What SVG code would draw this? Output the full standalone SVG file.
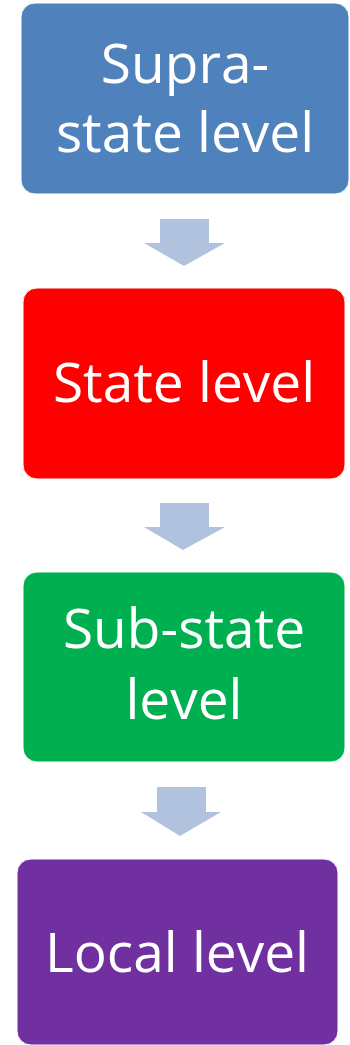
<svg xmlns="http://www.w3.org/2000/svg" width="350" height="1045" viewBox="0 0 350 1045">
<style>
.box{stroke:#ffffff;stroke-width:1}
.lbl{font-family:"Open Sans","Noto Sans",sans-serif;font-size:55px;fill:#ffffff;text-anchor:middle}
.arr{fill:#B1C2DE}
</style>
<rect width="350" height="1045" fill="#ffffff"/>
<g id="connectors">
<polygon class="arr" points="160,219 209,219 209,243 225,243 184,266 144,243 160,243"/>
<polygon class="arr" points="160,503 209,503 209,527 225,527 183,550 144,527 160,527"/>
<polygon class="arr" points="157,787 206,787 206,812 221,812 180,836 141,812 157,812"/>
</g>
<g id="supra">
<rect class="box" x="21" y="3" width="328" height="191" rx="14" fill="#4F81BD"/>
<text class="lbl" x="185" y="83">Supra-</text>
<text class="lbl" x="185" y="152">state level</text>
</g>
<g id="state">
<rect class="box" x="23" y="288" width="322" height="191" rx="14" fill="#FF0000"/>
<text class="lbl" x="184" y="402">State level</text>
</g>
<g id="substate">
<rect class="box" x="23" y="572" width="322" height="190" rx="14" fill="#00B050"/>
<text class="lbl" x="184" y="648">Sub-state</text>
<text class="lbl" x="184" y="719">level</text>
</g>
<g id="local">
<rect class="box" x="17" y="859" width="321" height="186" rx="14" fill="#7030A0"/>
<text class="lbl" x="177" y="972">Local level</text>
</g>
</svg>
